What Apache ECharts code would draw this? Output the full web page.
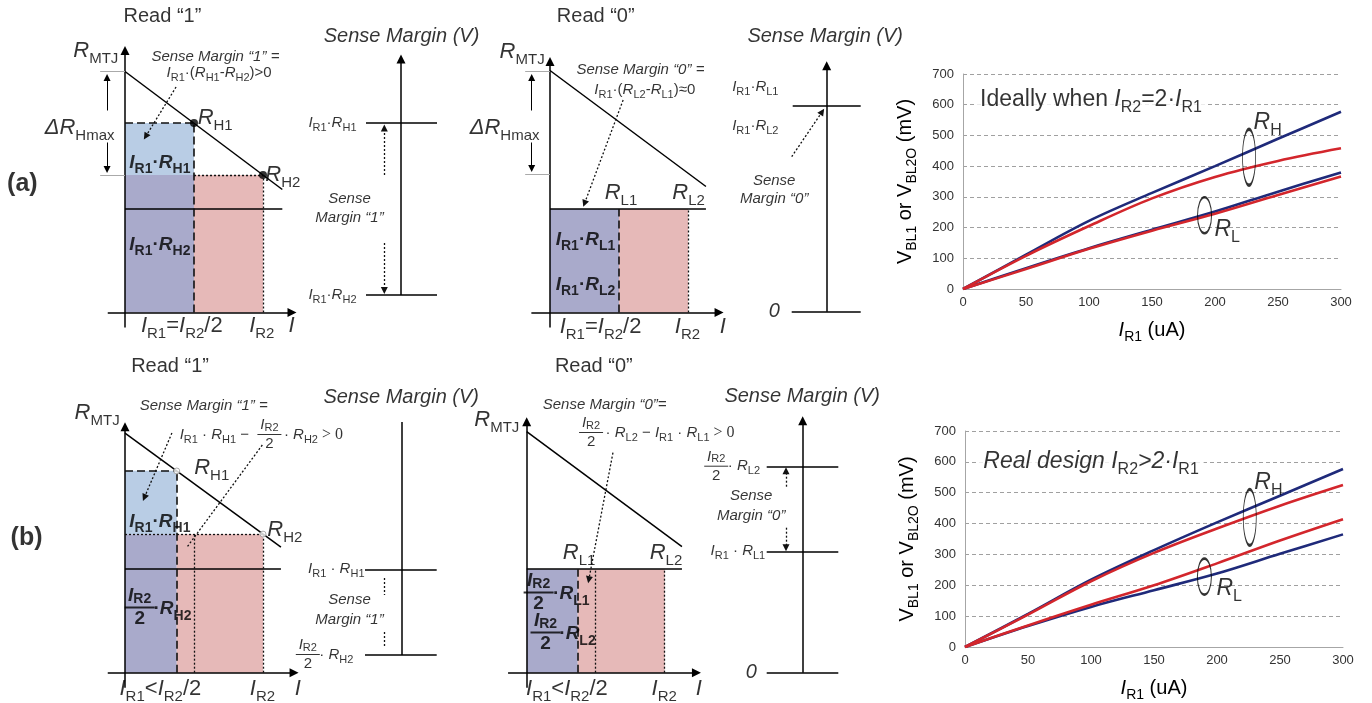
<!DOCTYPE html>
<html><head><meta charset="utf-8">
<script src="https://cdn.jsdelivr.net/npm/echarts@6/dist/echarts.min.js"></script>
<style>html,body{margin:0;padding:0;background:#fff}#c{width:1372px;height:703px}</style>
</head><body><div id="c"></div>
<script>
// ================= DATA =================
// Right-hand charts: V_BL1 or V_BL2O (mV) versus I_R1 (uA)
const I_R1_UA = [0, 50, 100, 150, 200, 250, 300];
const A_RH_BLUE = [0, 112, 222, 313, 400, 489, 577];
const A_RH_RED  = [0, 108, 205, 295, 365, 417, 458];
const A_RL_BLUE = [0, 68, 133, 193, 252, 317, 379];
const A_RL_RED  = [0, 65, 131, 190, 245, 306, 366];
const B_RH_BLUE = [0, 107, 218, 314, 404, 490, 577];
const B_RH_RED  = [0, 105, 213, 305, 384, 458, 525];
const B_RL_RED  = [0, 70, 137, 200, 271, 345, 414];
const B_RL_BLUE = [0, 68, 130, 184, 238, 302, 365];
const A_ELLIPSE_AT = [[227, 429], [191.7, 240]];
const B_ELLIPSE_AT = [[226, 420], [190, 228]];
const A_CHART_TEXT = [[10.0, 616, '{n|Ideally when }{i|I}{s|R2}{n|=2·}{i|I}{s|R1}', 'chart', 'left', true],
  [231, 541, '{i|R}{s|H}', 'chart', 'left'], [200, 193, '{i|R}{s|L}', 'chart', 'left']];
const B_CHART_TEXT = [[11, 600, '{i|Real design }{i|I}{s|R2}{i|>2·}{i|I}{s|R1}', 'chart', 'left', true],
  [230, 530, '{i|R}{s|H}', 'chart', 'left'], [200, 189, '{i|R}{s|L}', 'chart', 'left']];

// Schematics: I in units of I_R1 of case (a), R / V in arbitrary schematic units
// (a) Read "1"
const A1_RECT_BLUE = [[0, 13.75, 1, 18.95]];
const A1_RECT_PURPLE = [[0, 0, 1, 13.75]];
const A1_RECT_PINK = [[1, 0, 2, 13.75]];
const A1_SOLID = [[[0, 24.1], [2.28, 12.3]], [[0, 10.35], [2.28, 10.35]]];
const A1_AXES = [[[0, -1.5], [0, 26.2]], [[-0.25, 0], [2.42, 0]]];
const A1_DASHED = [[[0, 18.95], [1, 18.95]], [[1, 0], [1, 18.95]]];
const A1_DOTTED = [[[1, 13.75], [2, 13.75]], [[2, 0], [2, 13.75]]];
const A1_GUIDE = [[[-0.36, 24.1], [0, 24.1]], [[-0.36, 13.75], [0, 13.75]]];
const A1_ARROW = [[[-0.26, 20.2], [-0.26, 23.5]], [[-0.26, 17.0], [-0.26, 14.3]]];
const A1_DOTARROW = [[[0.74, 22.55], [0.3, 17.6]]];
const A1_POINTS = [[1, 18.95], [2, 13.75]];
const A1_TEXT = [
  [-0.09, 26.1, '{i|R}{s|MTJ}', 'big', 'right'],
  [0.39, 25.55, '{i|Sense Margin “1” =}', 'sense', 'left'],
  [0.61, 23.95, '{i|I}{s|R1}{n|·(}{i|R}{s|H1}{n|-}{i|R}{s|H2}{n|)>0}', 'form', 'left'],
  [1.06, 19.45, '{i|R}{s|H1}', 'big', 'left'],
  [2.04, 13.75, '{i|R}{s|H2}', 'big', 'left'],
  [0.07, 14.95, '{i|I}{s|R1}{n|·}{i|R}{s|H1}', 'bold', 'left'],
  [0.07, 6.75, '{i|I}{s|R1}{n|·}{i|R}{s|H2}', 'bold', 'left'],
  [0.83, -1.35, '{i|I}{s|R1}{n|=}{i|I}{s|R2}{n|/2}', 'big', 'center'],
  [1.99, -1.35, '{i|I}{s|R2}', 'big', 'center'],
  [2.42, -1.35, '{i|I}', 'big', 'center'],
  [-0.145, 18.45, '{i|ΔR}{s|Hmax}', 'big', 'right'],
  [0.55, 29.55, '{n|Read “1”}', 'read', 'center'],
  [-1.48, 12.75, '{n|(a)}', 'panel', 'center']
];
// (a) Sense margin "1"
const A2_AXES = [[[0, 0], [0, 23.6]]];
const A2_SOLID = [[[-3.5, 17.2], [3.6, 17.2]], [[-3.5, 0], [3.6, 0]]];
const A2_DOTARROW = [[[-1.67, 12.0], [-1.67, 16.7]], [[-1.67, 5.2], [-1.67, 0.45]]];
const A2_TEXT = [
  [-4.4, 17.2, '{i|I}{s|R1}{n|·}{i|R}{s|H1}', 'small', 'right'],
  [-4.4, 0, '{i|I}{s|R1}{n|·}{i|R}{s|H2}', 'small', 'right'],
  [-5.1, 9.6, '{i|Sense}', 'sense', 'center'],
  [-5.1, 7.7, '{i|Margin “1”}', 'sense', 'center'],
  [0.1, 25.8, '{i|Sense Margin (V)}', 'title', 'center']
];
// (a) Read "0"
const A3_RECT_PURPLE = [[0, 0, 1, 10.35]];
const A3_RECT_PINK = [[1, 0, 2, 10.35]];
const A3_SOLID = [[[0, 24.2], [2.26, 12.6]], [[0, 10.35], [2.26, 10.35]]];
const A3_AXES = [[[0, -1.5], [0, 25.1]], [[-0.27, 0], [2.45, 0]]];
const A3_DASHED = [[[1, 0], [1, 10.35]]];
const A3_DOTTED = [[[2, 0], [2, 10.35]]];
const A3_GUIDE = [[[-0.36, 24.15], [0, 24.15]], [[-0.36, 13.8], [0, 13.8]]];
const A3_ARROW = [[[-0.265, 20.2], [-0.265, 23.5]], [[-0.265, 17.0], [-0.265, 14.4]]];
const A3_DOTARROW = [[[1.06, 21.25], [0.5, 10.9]]];
const A3_TEXT = [
  [-0.07, 26.05, '{i|R}{s|MTJ}', 'big', 'right'],
  [-0.145, 18.45, '{i|ΔR}{s|Hmax}', 'big', 'right'],
  [0.39, 24.25, '{i|Sense Margin “0” =}', 'sense', 'left'],
  [0.65, 22.25, '{i|I}{s|R1}{n|·(}{i|R}{s|L2}{n|-}{i|R}{s|L1}{n|)≈0}', 'form', 'left'],
  [0.8, 11.95, '{i|R}{s|L1}', 'big', 'left'],
  [1.78, 11.95, '{i|R}{s|L2}', 'big', 'left'],
  [0.09, 7.25, '{i|I}{s|R1}{n|·}{i|R}{s|L1}', 'bold', 'left'],
  [0.09, 2.75, '{i|I}{s|R1}{n|·}{i|R}{s|L2}', 'bold', 'left'],
  [0.74, -1.45, '{i|I}{s|R1}{n|=}{i|I}{s|R2}{n|/2}', 'big', 'center'],
  [2.0, -1.45, '{i|I}{s|R2}', 'big', 'center'],
  [2.51, -1.45, '{i|I}', 'big', 'center'],
  [0.67, 29.55, '{n|Read “0”}', 'read', 'center']
];
// (a) Sense margin "0"
const A4_AXES = [[[0, 0], [0, 24.6]]];
const A4_SOLID = [[[-3.4, 20.6], [3.4, 20.6]], [[-3.5, 0], [3.4, 0]]];
const A4_DOTARROW = [[[-3.5, 15.5], [-0.45, 20.0]]];
const A4_TEXT = [
  [-9.4, 22.4, '{i|I}{s|R1}{n|·}{i|R}{s|L1}', 'small', 'left'],
  [-9.4, 18.5, '{i|I}{s|R1}{n|·}{i|R}{s|L2}', 'small', 'left'],
  [-5.2, 0, '{i|0}', 'zero', 'center'],
  [-5.2, 13.0, '{i|Sense}', 'sense', 'center'],
  [-5.2, 11.2, '{i|Margin “0”}', 'sense', 'center'],
  [-0.1, 27.5, '{i|Sense Margin (V)}', 'title', 'center']
];
// (b) Read "1"
const B1_RECT_BLUE = [[0, 13.85, 0.75, 20.2]];
const B1_RECT_PURPLE = [[0, 0, 0.75, 13.85]];
const B1_RECT_PINK = [[0.75, 0, 2, 13.85]];
const B1_SOLID = [[[0, 23.95], [2.26, 12.55]], [[0, 10.35], [2.26, 10.35]]];
const B1_AXES = [[[0, -1.5], [0, 24.6]], [[-0.25, 0], [2.45, 0]]];
const B1_DASHED = [[[0, 20.2], [0.75, 20.2]], [[0.75, 0], [0.75, 20.2]]];
const B1_DOTTED = [[[0, 13.85], [2, 13.85]], [[1, 0], [1, 13.85]], [[2, 0], [2, 13.85]], [[1.99, 22.77], [0.9, 12.57]]];
const B1_DOTARROW = [[[0.68, 23.97], [0.28, 17.5]]];
const B1_OPEN_POINTS = [[0.75, 20.17], [2, 13.86]];
const B1_TEXT = [
  [-0.07, 25.97, '{i|R}{s|MTJ}', 'big', 'right'],
  [0.22, 26.67, '{i|Sense Margin “1” =}', 'sense', 'left'],
  [0.8, 23.77, '{i|I}{s|R1}{n| · }{i|R}{s|H1}{n| − }', 'form', 'left'],
  [2.1, 23.77, '{fi|I}{fs|R2}\n{bar| }\n{fd|2}', 'fracForm', 'center'],
  [2.25, 23.77, '{n| · }{i|R}{s|H2}{t| > 0}', 'form', 'left'],
  [1.01, 20.47, '{i|R}{s|H1}', 'big', 'left'],
  [2.07, 14.27, '{i|R}{s|H2}', 'big', 'left'],
  [0.07, 15.07, '{i|I}{s|R1}{n|·}{i|R}{s|H1}', 'bold', 'left'],
  [0.22, 6.47, '{fi|I}{fs|R2}\n{bar| }\n{fd|2}', 'fracBold', 'center'],
  [0.42, 6.3, '{n|·}{i|R}{s|H2}', 'bold', 'left'],
  [0.52, -1.7, '{i|I}{s|R1}{n|<}{i|I}{s|R2}{n|/2}', 'big', 'center'],
  [2.0, -1.7, '{i|I}{s|R2}', 'big', 'center'],
  [2.51, -1.7, '{i|I}', 'big', 'center'],
  [0.66, 30.57, '{n|Read “1”}', 'read', 'center'],
  [-1.42, 13.4, '{n|(b)}', 'panel', 'center']
];
// (b) Sense margin "1"
const B2_SOLID = [[[0, 0], [0, 23.3]], [[-3.67, 8.57], [3.5, 8.57]], [[-3.67, 0], [3.5, 0]]];
const B2_DOTTED = [[[-1.77, 7.7], [-1.77, 6.0]], [[-1.77, 2.3], [-1.77, 0.8]]];
const B2_TEXT = [
  [-3.67, 8.57, '{i|I}{s|R1}{n| · }{i|R}{s|H1}', 'small', 'right'],
  [-9.34, 0, '{fi|I}{fs|R2}\n{bar| }\n{fd|2}', 'fracSmall', 'center'],
  [-8.6, 0, '{n| · }{i|R}{s|H2}', 'small', 'left'],
  [-5.17, 5.5, '{i|Sense}', 'sense', 'center'],
  [-5.17, 3.5, '{i|Margin “1”}', 'sense', 'center'],
  [0, 25.7, '{i|Sense Margin (V)}', 'title', 'center']
];
// (b) Read "0"
const B3_RECT_PURPLE = [[0, 0, 0.74, 10.35]];
const B3_RECT_PINK = [[0.74, 0, 2, 10.35]];
const B3_SOLID = [[[0, 24.1], [2.25, 12.6]], [[0, 10.35], [2.25, 10.35]]];
const B3_AXES = [[[0, -1.5], [0, 25.1]], [[-0.27, 0], [2.46, 0]]];
const B3_DASHED = [[[0.74, 0], [0.74, 10.35]]];
const B3_DOTTED = [[[1, 0], [1, 10.35]], [[2, 0], [2, 10.35]]];
const B3_DOTARROW = [[[1.25, 22.0], [0.9, 9.3]]];
const B3_TEXT = [
  [-0.1, 25.27, '{i|R}{s|MTJ}', 'big', 'right'],
  [0.24, 26.77, '{i|Sense Margin “0”=}', 'sense', 'left'],
  [0.94, 23.97, '{fi|I}{fs|R2}\n{bar| }\n{fd|2}', 'fracForm', 'center'],
  [1.09, 23.97, '{n| · }{i|R}{s|L2}{n| − }{i|I}{s|R1}{n| · }{i|R}{s|L1}{t| > 0}', 'form', 'left'],
  [0.53, 11.97, '{i|R}{s|L1}', 'big', 'left'],
  [1.79, 11.97, '{i|R}{s|L2}', 'big', 'left'],
  [0.18, 7.97, '{fi|I}{fs|R2}\n{bar| }\n{fd|2}', 'fracBold', 'center'],
  [0.39, 7.8, '{n|·}{i|R}{s|L1}', 'bold', 'left'],
  [0.28, 3.97, '{fi|I}{fs|R2}\n{bar| }\n{fd|2}', 'fracBold', 'center'],
  [0.48, 3.8, '{n|·}{i|R}{s|L2}', 'bold', 'left'],
  [0.59, -1.7, '{i|I}{s|R1}{n|<}{i|I}{s|R2}{n|/2}', 'big', 'center'],
  [2.0, -1.7, '{i|I}{s|R2}', 'big', 'center'],
  [2.5, -1.7, '{i|I}', 'big', 'center'],
  [0.98, 30.57, '{n|Read “0”}', 'read', 'center']
];
// (b) Sense margin "0"
const B4_AXES = [[[0, 0], [0, 25.2]]];
const B4_SOLID = [[[-3.6, 20.6], [3.56, 20.6]], [[-3.6, 12.1], [3.56, 12.1]], [[-3.6, 0], [3.56, 0]]];
const B4_DOTARROW = [[[-1.67, 18.6], [-1.67, 20.2]], [[-1.67, 14.5], [-1.67, 12.5]]];
const B4_TEXT = [
  [-8.6, 20.6, '{fi|I}{fs|R2}\n{bar| }\n{fd|2}', 'fracSmall', 'center'],
  [-7.85, 20.6, '{n| · }{i|R}{s|L2}', 'small', 'left'],
  [-3.7, 12.1, '{i|I}{s|R1}{n| · }{i|R}{s|L1}', 'small', 'right'],
  [-5.1, 0, '{i|0}', 'zero', 'center'],
  [-5.1, 17.6, '{i|Sense}', 'sense', 'center'],
  [-5.1, 15.6, '{i|Margin “0”}', 'sense', 'center'],
  [0, 27.6, '{i|Sense Margin (V)}', 'title', 'center']
];

// ================= LAYOUT & STYLE =================
const F = 'Arial, "Liberation Sans", sans-serif';
function txt(size, o) {
  o = o || {};
  const w = o.bold ? 'bold' : 'normal';
  const lh = Math.round(size * 1.4);
  const ss = Math.round(size * (o.sub || 0.7));
  const base = { fontFamily: F, color: '#000', fontWeight: w };
  return {
    i: Object.assign({}, base, { fontSize: size, fontStyle: 'italic', lineHeight: lh, verticalAlign: 'middle' }),
    n: Object.assign({}, base, { fontSize: size, fontStyle: o.italic ? 'italic' : 'normal', lineHeight: lh, verticalAlign: 'middle' }),
    s: Object.assign({}, base, { fontSize: ss, lineHeight: Math.round(size * 0.8), verticalAlign: 'bottom' }),
    t: { fontFamily: '"Liberation Serif", "Times New Roman", serif', fontSize: size + 1, lineHeight: lh, verticalAlign: 'middle', color: '#000' }
  };
}
function frac(size, o) {
  o = o || {};
  const w = o.bold ? 'bold' : 'normal';
  const base = { fontFamily: F, color: '#000', fontWeight: w, align: 'center' };
  return {
    fi: Object.assign({}, base, { fontSize: size, fontStyle: 'italic', lineHeight: Math.round(size * 1.05), verticalAlign: 'middle' }),
    fs: Object.assign({}, base, { fontSize: Math.round(size * 0.72), lineHeight: Math.round(size * 0.72), verticalAlign: 'bottom' }),
    bar: { width: Math.round(size * 1.6), height: o.bold ? 2 : 1, lineHeight: 3, backgroundColor: '#000', fontSize: 1, color: 'rgba(0,0,0,0)', align: 'center' },
    fd: Object.assign({}, base, { fontSize: size, lineHeight: Math.round(size * 1.05), verticalAlign: 'middle' })
  };
}
const ST = {
  big: txt(22, { sub: 0.66 }),
  bold: txt(19, { bold: true, sub: 0.72 }),
  small: txt(15, { sub: 0.72 }),
  form: txt(15, { sub: 0.72 }),
  sense: txt(15, { italic: true }),
  title: txt(20, { italic: true }),
  read: txt(20),
  panel: txt(25, { bold: true }),
  zero: txt(20),
  chart: txt(23, { sub: 0.68 }),
  axis: txt(20, { sub: 0.68 }),
  fracForm: frac(15),
  fracSmall: frac(15),
  fracBold: frac(19, { bold: true })
};
const COL = { blue: '#b9cde5', purple: '#a9aacb', pink: '#e6b9b8', navy: '#1f2a7a', red: '#d3262c' };

// origin (px), px per unit, unit box
const PANELS = [
  { layout: [125, 312.5, 69, 10], box: [-1.7, 3, -3, 31], rb: A1_RECT_BLUE, rp: A1_RECT_PURPLE, rk: A1_RECT_PINK, solid: A1_SOLID, axes: A1_AXES, dashed: A1_DASHED, dotted: A1_DOTTED, guide: A1_GUIDE, arrow: A1_ARROW, dotArrow: A1_DOTARROW, pts: A1_POINTS, text: A1_TEXT },
  { layout: [401, 295, 10, 10], box: [-12, 6, -3, 29], axes: A2_AXES, solid: A2_SOLID, dotArrow: A2_DOTARROW, text: A2_TEXT },
  { layout: [550, 312.5, 69, 10], box: [-1.7, 3, -3, 31], rp: A3_RECT_PURPLE, rk: A3_RECT_PINK, solid: A3_SOLID, axes: A3_AXES, dashed: A3_DASHED, dotted: A3_DOTTED, guide: A3_GUIDE, arrow: A3_ARROW, dotArrow: A3_DOTARROW, text: A3_TEXT },
  { layout: [826.7, 311.7, 10, 10], box: [-12, 6, -3, 29], axes: A4_AXES, solid: A4_SOLID, dotArrow: A4_DOTARROW, text: A4_TEXT },
  { layout: [125, 672.7, 69, 10], box: [-1.7, 3, -3, 31], rb: B1_RECT_BLUE, rp: B1_RECT_PURPLE, rk: B1_RECT_PINK, solid: B1_SOLID, axes: B1_AXES, dashed: B1_DASHED, dotted: B1_DOTTED, dotArrow: B1_DOTARROW, open: B1_OPEN_POINTS, text: B1_TEXT },
  { layout: [401.7, 655, 10, 10], box: [-12, 6, -3, 29], solid: B2_SOLID, dotted: B2_DOTTED, text: B2_TEXT },
  { layout: [526.7, 672.7, 69, 10], box: [-1.7, 3, -3, 31], rp: B3_RECT_PURPLE, rk: B3_RECT_PINK, solid: B3_SOLID, axes: B3_AXES, dashed: B3_DASHED, dotted: B3_DOTTED, dotArrow: B3_DOTARROW, text: B3_TEXT },
  { layout: [802.7, 672.7, 10, 10], box: [-12, 6, -3, 29], axes: B4_AXES, solid: B4_SOLID, dotArrow: B4_DOTARROW, text: B4_TEXT }
];

const grid = [], xAxis = [], yAxis = [], series = [];

function rectSeries(g, rects, color) {
  return { type: 'custom', coordinateSystem: 'cartesian2d', xAxisIndex: g, yAxisIndex: g, silent: true, z: 1, clip: false,
    data: rects, encode: { x: [0, 2], y: [1, 3] },
    renderItem: function (p, api) {
      const a = api.coord([api.value(0), api.value(1)]);
      const b = api.coord([api.value(2), api.value(3)]);
      return { type: 'rect', shape: { x: Math.min(a[0], b[0]), y: Math.min(a[1], b[1]), width: Math.abs(b[0] - a[0]), height: Math.abs(b[1] - a[1]) }, style: { fill: color } };
    } };
}
function segSeries(g, segs, style, arrow, z) {
  return { type: 'lines', coordinateSystem: 'cartesian2d', xAxisIndex: g, yAxisIndex: g, polyline: false, clip: false, silent: true, z: z || 3,
    symbol: arrow ? ['none', 'triangle'] : ['none', 'none'], symbolSize: arrow || 0,
    lineStyle: Object.assign({ opacity: 1, curveness: 0 }, style),
    data: segs.map(function (s) { return { coords: s }; }) };
}
function textSeries(g, items) {
  return { type: 'scatter', xAxisIndex: g, yAxisIndex: g, clip: false, silent: true, symbolSize: 1, z: 10,
    itemStyle: { color: 'rgba(255,255,255,0)' },
    data: items.map(function (t) {
      const lab = { show: true, formatter: t[2], rich: ST[t[3]], position: [0, 0], align: t[4], verticalAlign: 'middle', distance: 0, color: '#000' };
      if (t[5]) { lab.backgroundColor = '#fff'; lab.padding = [0, 5]; }
      return { value: [t[0], t[1]], label: lab };
    }) };
}

PANELS.forEach(function (P, g) {
  const ox = P.layout[0], oy = P.layout[1], sx = P.layout[2], sy = P.layout[3];
  const b = P.box;
  grid.push({ left: ox + b[0] * sx, top: oy - b[3] * sy, width: (b[1] - b[0]) * sx, height: (b[3] - b[2]) * sy, containLabel: false });
  xAxis.push({ gridIndex: g, type: 'value', min: b[0], max: b[1], show: false });
  yAxis.push({ gridIndex: g, type: 'value', min: b[2], max: b[3], show: false });
  if (P.rb) series.push(rectSeries(g, P.rb, COL.blue));
  if (P.rp) series.push(rectSeries(g, P.rp, COL.purple));
  if (P.rk) series.push(rectSeries(g, P.rk, COL.pink));
  if (P.solid) series.push(segSeries(g, P.solid, { color: '#000', width: 1.5 }));
  if (P.axes) series.push(segSeries(g, P.axes, { color: '#000', width: 1.5 }, 9));
  if (P.dashed) series.push(segSeries(g, P.dashed, { color: '#111', width: 1.6, type: [8, 4] }));
  if (P.dotted) series.push(segSeries(g, P.dotted, { color: '#111', width: 1.3, type: [2, 2] }));
  if (P.guide) series.push(segSeries(g, P.guide, { color: '#aaa', width: 1 }));
  if (P.arrow) series.push(segSeries(g, P.arrow, { color: '#000', width: 1 }, 7));
  if (P.dotArrow) series.push(segSeries(g, P.dotArrow, { color: '#111', width: 1.3, type: [2, 2] }, 7));
  if (P.pts) series.push({ type: 'scatter', xAxisIndex: g, yAxisIndex: g, clip: false, silent: true, z: 6, symbolSize: 8, itemStyle: { color: '#000' }, data: P.pts });
  if (P.open) series.push({ type: 'scatter', xAxisIndex: g, yAxisIndex: g, clip: false, silent: true, z: 6, symbolSize: 6, itemStyle: { color: '#fff', borderColor: '#999', borderWidth: 1 }, data: P.open });
  if (P.text) series.push(textSeries(g, P.text));
});

// ---- right-hand charts ----
function pairs(ys) { return I_R1_UA.map(function (x, i) { return [x, ys[i]]; }); }
const CHARTS = [
  { rect: [963, 74, 378, 215], lines: [[A_RH_BLUE, COL.navy], [A_RL_BLUE, COL.navy], [A_RH_RED, COL.red], [A_RL_RED, COL.red]], ell: A_ELLIPSE_AT, text: A_CHART_TEXT },
  { rect: [965, 431, 378, 216], lines: [[B_RH_BLUE, COL.navy], [B_RL_BLUE, COL.navy], [B_RH_RED, COL.red], [B_RL_RED, COL.red]], ell: B_ELLIPSE_AT, text: B_CHART_TEXT }
];
const ELL_SIZE = [[13, 56], [14, 36]];
CHARTS.forEach(function (C) {
  const g = grid.length;
  grid.push({ left: C.rect[0], top: C.rect[1], width: C.rect[2], height: C.rect[3], containLabel: false });
  xAxis.push({ gridIndex: g, type: 'value', min: 0, max: 300, interval: 50,
    axisLine: { lineStyle: { color: '#a6a6a6', width: 1 } }, axisTick: { show: false },
    axisLabel: { color: '#333', fontSize: 13, margin: 7, fontFamily: F }, splitLine: { show: false },
    name: '{i|I}{s|R1}{n| (uA)}', nameLocation: 'middle', nameGap: 27, nameTextStyle: { rich: ST.axis } });
  yAxis.push({ gridIndex: g, type: 'value', min: 0, max: 700, interval: 100,
    axisLine: { show: true, lineStyle: { color: '#a6a6a6', width: 1 } }, axisTick: { show: false },
    axisLabel: { color: '#333', fontSize: 13, margin: 9, fontFamily: F },
    splitLine: { lineStyle: { color: '#a0a0a0', type: [4, 3], width: 1 } },
    name: '{n|V}{s|BL1}{n| or V}{s|BL2O}{n| (mV)}', nameLocation: 'middle', nameRotate: 90, nameGap: 44, nameTextStyle: { rich: ST.axis } });
  C.lines.forEach(function (L) {
    series.push({ type: 'line', xAxisIndex: g, yAxisIndex: g, data: pairs(L[0]), smooth: 0.35, showSymbol: false, silent: true, z: 4,
      lineStyle: { color: L[1], width: 2.6 } });
  });
  series.push({ type: 'scatter', xAxisIndex: g, yAxisIndex: g, silent: true, z: 6, clip: false,
    data: C.ell.map(function (p, i) { return { value: p, symbolSize: ELL_SIZE[i] }; }),
    itemStyle: { color: 'rgba(0,0,0,0)', borderColor: '#000', borderWidth: 1.6 } });
  series.push(textSeries(g, C.text));
});

const chart = echarts.init(document.getElementById('c'), null, { renderer: 'canvas' });
chart.setOption({ animation: false, backgroundColor: '#fff', textStyle: { fontFamily: F }, grid: grid, xAxis: xAxis, yAxis: yAxis, series: series });
</script></body></html>
